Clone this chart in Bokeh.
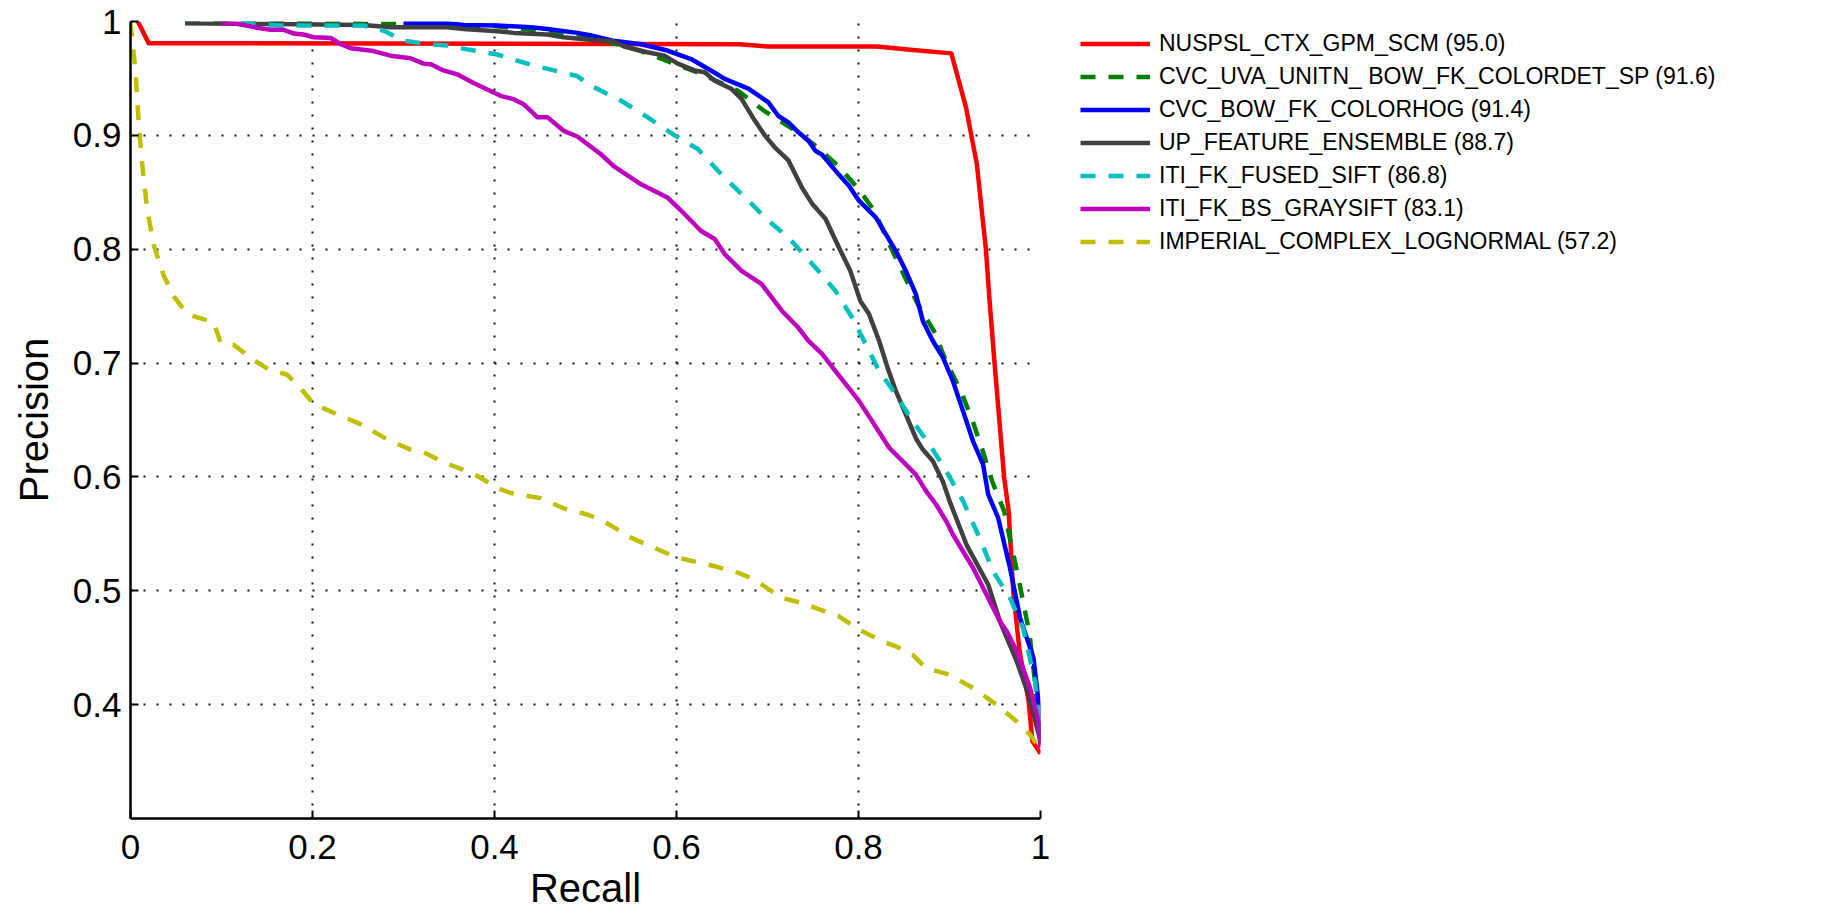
from bokeh.plotting import figure
from bokeh.models import Range1d, FixedTicker, Legend, LegendItem
from bokeh.embed import file_html
from bokeh.resources import INLINE

# ---------------- data ----------------
names = [
    "NUSPSL_CTX_GPM_SCM (95.0)",
    "CVC_UVA_UNITN_ BOW_FK_COLORDET_SP (91.6)",
    "CVC_BOW_FK_COLORHOG (91.4)",
    "UP_FEATURE_ENSEMBLE (88.7)",
    "ITI_FK_FUSED_SIFT (86.8)",
    "ITI_FK_BS_GRAYSIFT (83.1)",
    "IMPERIAL_COMPLEX_LOGNORMAL (57.2)",
]

red_r = [0.008, 0.020, 0.67, 0.70, 0.82, 0.86, 0.902, 0.918, 0.930, 0.940, 0.944,
         0.9495, 0.960, 0.965, 0.970, 0.977, 0.987, 0.991, 1.0]
red_p = [1.0, 0.981, 0.980, 0.978, 0.978, 0.975, 0.972, 0.925, 0.875, 0.800, 0.755,
         0.700, 0.600, 0.570, 0.500, 0.447, 0.403, 0.368, 0.357]

green_r = [0.06, 0.29, 0.40, 0.50, 0.561, 0.627, 0.668, 0.6955, 0.727, 0.7526, 0.778,
           0.802, 0.817, 0.8356, 0.865, 0.883, 0.896, 0.9127, 0.9255, 0.9365, 0.947,
           0.960, 0.975, 0.988, 1.0]
green_p = [0.999, 0.998, 0.996, 0.988, 0.974, 0.954, 0.939, 0.922, 0.906, 0.891, 0.873,
           0.851, 0.834, 0.8015, 0.752, 0.728, 0.702, 0.675, 0.649, 0.623, 0.596,
           0.570, 0.514, 0.462, 0.376]

blue_r = [0.300, 0.348, 0.366, 0.403, 0.440, 0.458, 0.491, 0.505, 0.531, 0.561, 0.590,
          0.616, 0.642, 0.653, 0.679, 0.701, 0.712, 0.723, 0.734, 0.745, 0.7526, 0.760,
          0.7747, 0.7895, 0.8005, 0.819, 0.841, 0.852, 0.863, 0.8707, 0.8817, 0.8927,
          0.9037, 0.9148, 0.9258, 0.9369, 0.9425, 0.9535, 0.9665, 0.9776, 0.9923,
          0.9978, 1.0]
blue_p = [0.9985, 0.9985, 0.997, 0.9965, 0.995, 0.9935, 0.990, 0.988, 0.983, 0.980,
          0.9745, 0.967, 0.955, 0.9496, 0.941, 0.929, 0.917, 0.9114, 0.9027, 0.8953,
          0.8865, 0.883, 0.869, 0.8558, 0.8426, 0.828, 0.7986, 0.781, 0.7605, 0.737,
          0.7194, 0.705, 0.6843, 0.658, 0.6315, 0.611, 0.5846, 0.564, 0.520, 0.476,
          0.441, 0.4028, 0.365]

gray_r = [0.06, 0.256, 0.286, 0.348, 0.366, 0.403, 0.421, 0.458, 0.476, 0.505, 0.531,
          0.5424, 0.568, 0.5867, 0.6014, 0.6199, 0.631, 0.642, 0.660, 0.6715, 0.686,
          0.697, 0.708, 0.723, 0.738, 0.749, 0.7637, 0.7785, 0.791, 0.802, 0.8116,
          0.8227, 0.8319, 0.841, 0.852, 0.863, 0.8707, 0.8817, 0.8927, 0.900, 0.9186,
          0.9425, 0.9555, 0.9739, 0.9867, 1.0]
gray_p = [0.9985, 0.997, 0.995, 0.995, 0.9935, 0.9915, 0.990, 0.9886, 0.9862, 0.984,
          0.9827, 0.978, 0.973, 0.970, 0.963, 0.957, 0.9554, 0.948, 0.941, 0.932,
          0.913, 0.900, 0.8895, 0.878, 0.854, 0.840, 0.8267, 0.8015, 0.781, 0.7546,
          0.743, 0.7194, 0.696, 0.6755, 0.655, 0.634, 0.624, 0.614, 0.596, 0.579,
          0.5406, 0.5055, 0.473, 0.438, 0.409, 0.368]

cyan_r = [0.121, 0.165, 0.205, 0.256, 0.278, 0.300, 0.330, 0.348, 0.370, 0.403, 0.440,
          0.476, 0.491, 0.505, 0.539, 0.568, 0.598, 0.6235, 0.649, 0.679, 0.701, 0.723,
          0.7526, 0.7747, 0.793, 0.808, 0.8227, 0.841, 0.8595, 0.878, 0.8965, 0.9148,
          0.933, 0.948, 0.9665, 0.981, 0.994, 1.0]
cyan_p = [0.9985, 0.9965, 0.9965, 0.9965, 0.992, 0.983, 0.980, 0.979, 0.9755, 0.971,
          0.962, 0.955, 0.952, 0.944, 0.9305, 0.916, 0.900, 0.888, 0.866, 0.8426, 0.825,
          0.8103, 0.784, 0.7634, 0.740, 0.7165, 0.693, 0.6725, 0.649, 0.6286, 0.605,
          0.579, 0.5465, 0.517, 0.4937, 0.467, 0.4204, 0.374]

magenta_r = [0.1007, 0.117, 0.139, 0.154, 0.1685, 0.1795, 0.19, 0.2015, 0.22, 0.231,
             0.242, 0.267, 0.2857, 0.3077, 0.322, 0.33, 0.344, 0.359, 0.377, 0.3956,
             0.4066, 0.421, 0.432, 0.447, 0.458, 0.476, 0.491, 0.5166, 0.531, 0.561,
             0.590, 0.605, 0.627, 0.642, 0.653, 0.6715, 0.6936, 0.7157, 0.734, 0.745,
             0.760, 0.7747, 0.7895, 0.8005, 0.815, 0.8337, 0.852, 0.863, 0.8743, 0.8853,
             0.8965, 0.9037, 0.926, 0.9443, 0.9555, 0.963, 0.974, 0.9886, 0.9978, 1.0]
magenta_p = [0.9985, 0.998, 0.9945, 0.9927, 0.9927, 0.9894, 0.9886, 0.9862, 0.9856,
             0.980, 0.9765, 0.974, 0.970, 0.9677, 0.963, 0.9624, 0.957, 0.9536, 0.946,
             0.939, 0.9347, 0.9318, 0.9274, 0.916, 0.916, 0.904, 0.899, 0.8836, 0.873,
             0.857, 0.8455, 0.834, 0.816, 0.809, 0.7957, 0.781, 0.7693, 0.746, 0.731,
             0.7194, 0.708, 0.693, 0.678, 0.6667, 0.649, 0.6256, 0.611, 0.602, 0.5875,
             0.5758, 0.561, 0.5494, 0.520, 0.4908, 0.473, 0.4644, 0.4468, 0.4145, 0.385,
             0.362]

yellow_r = [0.0, 0.0055, 0.009, 0.0128, 0.0183, 0.0256, 0.0366, 0.0476, 0.0623, 0.0806,
            0.0916, 0.0989, 0.1136, 0.1355, 0.1538, 0.172, 0.1868, 0.2015, 0.227,
            0.2527, 0.282, 0.3077, 0.322, 0.3443, 0.3736, 0.3846, 0.403, 0.4176, 0.4505,
            0.4762, 0.5018, 0.5165, 0.5386, 0.546, 0.572, 0.598, 0.6125, 0.642, 0.668,
            0.686, 0.7047, 0.716, 0.738, 0.7673, 0.7785, 0.8005, 0.8264, 0.841, 0.8595,
            0.8743, 0.900, 0.926, 0.9516, 0.9739, 0.9886, 1.0]
yellow_p = [1.0, 0.956, 0.911, 0.875, 0.835, 0.8034, 0.7766, 0.7586, 0.743, 0.7384,
            0.736, 0.718, 0.716, 0.7025, 0.6935, 0.690, 0.678, 0.664, 0.655, 0.6464,
            0.633, 0.624, 0.6218, 0.6128, 0.6038, 0.5993, 0.5903, 0.5859, 0.5814,
            0.5724, 0.567, 0.5626, 0.5523, 0.548, 0.539, 0.530, 0.527, 0.5216, 0.5157,
            0.5098, 0.4996, 0.4937, 0.4893, 0.4805, 0.4776, 0.4659, 0.4556, 0.4512,
            0.4439, 0.4321, 0.4263, 0.4145, 0.400, 0.3852, 0.3735, 0.3603]

x_ticks = [0, 0.2, 0.4, 0.6, 0.8, 1]
x_tick_labels = ["0", "0.2", "0.4", "0.6", "0.8", "1"]
y_ticks = [0.4, 0.5, 0.6, 0.7, 0.8, 0.9, 1]
y_tick_labels = ["0.4", "0.5", "0.6", "0.7", "0.8", "0.9", "1"]

# ---------------- styling ----------------
FONT = "Liberation Sans"
DASH = "15 13"
series = [
    (red_r, red_p, "#ff0000", "solid"),
    (green_r, green_p, "#008000", DASH),
    (blue_r, blue_p, "#0000ff", "solid"),
    (gray_r, gray_p, "#404040", "solid"),
    (cyan_r, cyan_p, "#00bfbf", DASH),
    (magenta_r, magenta_p, "#bf00bf", "solid"),
    (yellow_r, yellow_p, "#bfbf00", DASH),
]

p = figure(frame_width=910, frame_height=797, x_range=Range1d(0, 1),
           y_range=Range1d(0.3, 1), output_backend="svg", toolbar_location=None,
           min_border_left=130, min_border_right=790, min_border_top=21,
           min_border_bottom=90)
p.outline_line_color = None
p.background_fill_color = "white"
p.border_fill_color = "white"

p.xaxis.ticker = FixedTicker(ticks=x_ticks)
p.yaxis.ticker = FixedTicker(ticks=y_ticks)
p.xaxis.major_label_overrides = {t: l for t, l in zip(x_ticks, x_tick_labels)}
p.yaxis.major_label_overrides = {t: l for t, l in zip(y_ticks, y_tick_labels)}

for ax in (p.xaxis, p.yaxis):
    ax.axis_line_color = "black"
    ax.axis_line_width = 2.5
    ax.major_tick_line_color = "black"
    ax.major_tick_line_width = 2
    ax.major_tick_in = 8
    ax.major_tick_out = 0
    ax.minor_tick_line_color = None
    ax.major_label_text_font = FONT
    ax.major_label_text_font_size = "35px"
    ax.major_label_text_color = "black"
    ax.axis_label_text_font = FONT
    ax.axis_label_text_font_size = "40px"
    ax.axis_label_text_font_style = "normal"
    ax.axis_label_text_color = "black"
p.xaxis.major_label_standoff = 16
p.yaxis.major_label_standoff = 9
p.xaxis.axis_label = "Recall"
p.yaxis.axis_label = "Precision"
p.xaxis.axis_label_standoff = 4
p.yaxis.axis_label_standoff = 14

for g in (p.xgrid, p.ygrid):
    g.grid_line_color = "#111111"
    g.grid_line_width = 2
    g.grid_line_dash = "2 11"
p.xgrid.ticker = FixedTicker(ticks=x_ticks)
p.ygrid.ticker = FixedTicker(ticks=y_ticks)

items = []
for (xs, ys, col, dash), name in zip(series, names):
    r = p.line(xs, ys, line_color=col, line_width=4.5, line_dash=dash,
               line_join="round")
    items.append(LegendItem(label=name, renderers=[r]))

legend = Legend(items=items, location=(40, 560), orientation="vertical",
                padding=0, margin=0, spacing=0, glyph_width=70, glyph_height=33,
                label_height=33, label_standoff=9,
                label_text_font=FONT, label_text_font_size="23px",
                label_text_color="black",
                border_line_color=None, background_fill_alpha=0)
p.add_layout(legend, "right")

open("out.html", "w").write(file_html(p, INLINE))
